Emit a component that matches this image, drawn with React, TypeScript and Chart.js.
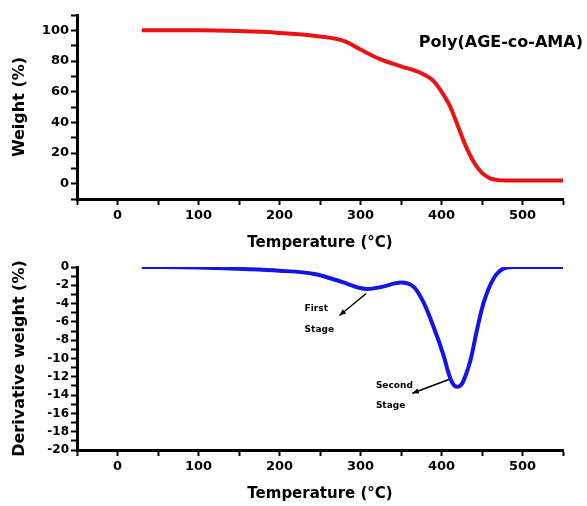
import { useEffect, useRef } from 'react';
import { Chart, registerables } from 'chart.js';
Chart.register(...registerables);

const tgaTemp = [30, 100, 150, 200, 250, 280, 300, 325, 350, 375, 390, 400, 410, 420, 430, 440, 450, 460, 470, 480, 550];
const tgaWeight = [100, 100, 99.5, 98.3, 96, 93, 87.5, 81, 76.5, 72, 67, 60, 51, 38, 24.5, 14, 7, 3.5, 2.3, 2, 2];

const dtgTemp = [30, 100, 150, 200, 243, 276, 300, 309, 325, 350, 366, 378, 390, 403, 408, 413, 419, 425, 430, 436, 444, 452, 464, 476, 488, 550];
const dtgDeriv = [0, -0.05, -0.2, -0.4, -0.77, -1.6, -2.3, -2.4, -2.2, -1.7, -2.2, -3.9, -6.5, -9.8, -11.4, -12.6, -13.1, -12.8, -11.8, -10.1, -6.8, -3.9, -1.3, -0.2, 0, 0];

const xTickLabels = [0, 100, 200, 300, 400, 500];
const tgaTickLabels = [0, 20, 40, 60, 80, 100];
const dtgTickLabels = [0, -2, -4, -6, -8, -10, -12, -14, -16, -18, -20];

const FONT = "'DejaVu Sans', Arial, sans-serif";

const topAnnotations = {
  texts: [{ x: 372, y: 92, text: 'Poly(AGE-co-AMA)', size: 16 }],
  arrows: [] as any[],
};
const bottomAnnotations = {
  texts: [
    { x: 231, y: -4.6, text: 'First', size: 9 },
    { x: 231, y: -6.8, text: 'Stage', size: 9 },
    { x: 319, y: -13.0, text: 'Second', size: 9 },
    { x: 319, y: -15.2, text: 'Stage', size: 9 },
  ],
  arrows: [
    { x1: 307, y1: -2.9, x2: 274, y2: -5.3 },
    { x1: 409, y1: -12.3, x2: 364, y2: -13.8 },
  ],
};

function annotPlugin(items: any) {
  return {
    id: 'annot',
    afterDatasetsDraw(chart: any) {
      const { ctx } = chart;
      const xs = chart.scales.x;
      const ys = chart.scales.y;
      ctx.save();
      ctx.fillStyle = '#000';
      ctx.strokeStyle = '#000';
      ctx.textAlign = 'left';
      ctx.textBaseline = 'middle';
      items.texts.forEach((t: any) => {
        ctx.font = `bold ${t.size}px ${FONT}`;
        ctx.fillText(t.text, xs.getPixelForValue(t.x), ys.getPixelForValue(t.y));
      });
      items.arrows.forEach((a: any) => {
        const x1 = xs.getPixelForValue(a.x1), y1 = ys.getPixelForValue(a.y1);
        const x2 = xs.getPixelForValue(a.x2), y2 = ys.getPixelForValue(a.y2);
        ctx.lineWidth = 1.5;
        ctx.beginPath();
        ctx.moveTo(x1, y1);
        ctx.lineTo(x2, y2);
        ctx.stroke();
        const ang = Math.atan2(y2 - y1, x2 - x1);
        const L = 7, W = 0.4;
        ctx.beginPath();
        ctx.moveTo(x2, y2);
        ctx.lineTo(x2 - L * Math.cos(ang - W), y2 - L * Math.sin(ang - W));
        ctx.lineTo(x2 - L * Math.cos(ang + W), y2 - L * Math.sin(ang + W));
        ctx.closePath();
        ctx.fill();
      });
      ctx.restore();
    },
  };
}

function makeConfig(opts: any) {
  const { xs, ys, color, yMin, yMax, yStep, yLabels, yTitle, yFont, padTop, annots } = opts;
  return {
    type: 'line',
    data: {
      datasets: [
        {
          data: xs.map((x: number, i: number) => ({ x, y: ys[i] })),
          borderColor: color,
          borderWidth: 4,
          pointRadius: 0,
          fill: false,
          cubicInterpolationMode: 'monotone',
        },
      ],
    },
    options: {
      animation: false,
      responsive: false,
      events: [],
      layout: { padding: { top: padTop, right: 24, left: 0, bottom: 0 } },
      plugins: { legend: { display: false }, tooltip: { enabled: false } },
      scales: {
        x: {
          type: 'linear',
          min: -50,
          max: 550,
          afterBuildTicks: (s: any) => {
            const t = [];
            for (let v = -50; v <= 550; v += 50) t.push({ value: v });
            s.ticks = t;
          },
          ticks: {
            autoSkip: false,
            maxRotation: 0,
            padding: 3,
            color: '#000',
            font: { size: 13, weight: 'bold', family: FONT },
            callback: (v: number) => (xTickLabels.includes(v) ? String(v) : ''),
          },
          grid: { drawOnChartArea: false, tickLength: 6, tickWidth: 2, tickColor: '#000' },
          border: { display: true, width: 3, color: '#000' },
          title: {
            display: true,
            text: 'Temperature (°C)',
            color: '#000',
            font: { size: 15, weight: 'bold', family: FONT },
            padding: { top: 0, bottom: 3 },
          },
          afterFit: (s: any) => {
            s.height = 56;
          },
        },
        y: {
          type: 'linear',
          min: yMin,
          max: yMax,
          afterBuildTicks: (s: any) => {
            const t = [];
            for (let v = yMin; v <= yMax + 1e-9; v += yStep) t.push({ value: Math.round(v * 100) / 100 });
            s.ticks = t;
          },
          ticks: {
            autoSkip: false,
            padding: 2,
            color: '#000',
            font: { size: yFont, weight: 'bold', family: FONT },
            callback: (v: number) => (yLabels.includes(v) ? String(v) : ''),
          },
          grid: { drawOnChartArea: false, tickLength: 6, tickWidth: 2, tickColor: '#000' },
          border: { display: true, width: 3, color: '#000' },
          title: {
            display: true,
            text: yTitle,
            color: '#000',
            font: { size: 16, weight: 'bold', family: FONT },
            padding: { top: 10, bottom: 0 },
          },
          afterFit: (s: any) => {
            s.width = 77;
          },
        },
      },
    },
    plugins: [annotPlugin(annots)],
  };
}

export default function App() {
  const topRef = useRef<HTMLCanvasElement>(null);
  const botRef = useRef<HTMLCanvasElement>(null);
  useEffect(() => {
    const c1 = new Chart(
      topRef.current as any,
      makeConfig({
        xs: tgaTemp,
        ys: tgaWeight,
        color: '#ee1111',
        yMin: -10,
        yMax: 110,
        yStep: 10,
        yLabels: tgaTickLabels,
        yTitle: 'Weight (%)',
        yFont: 13,
        padTop: 15,
        annots: topAnnotations,
      }) as any
    );
    const c2 = new Chart(
      botRef.current as any,
      makeConfig({
        xs: dtgTemp,
        ys: dtgDeriv,
        color: '#1414e6',
        yMin: -20,
        yMax: 0,
        yStep: 1,
        yLabels: dtgTickLabels,
        yTitle: 'Derivative weight (%)',
        yFont: 12,
        padTop: 12,
        annots: bottomAnnotations,
      }) as any
    );
    return () => {
      c1.destroy();
      c2.destroy();
    };
  }, []);
  return (
    <div style={{ position: 'absolute', left: 0, top: 0, width: 587, height: 506, background: '#fff' }}>
      <canvas ref={topRef} width={587} height={255} style={{ position: 'absolute', left: 0, top: 0 }} />
      <canvas ref={botRef} width={587} height={251} style={{ position: 'absolute', left: 0, top: 255 }} />
    </div>
  );
}
